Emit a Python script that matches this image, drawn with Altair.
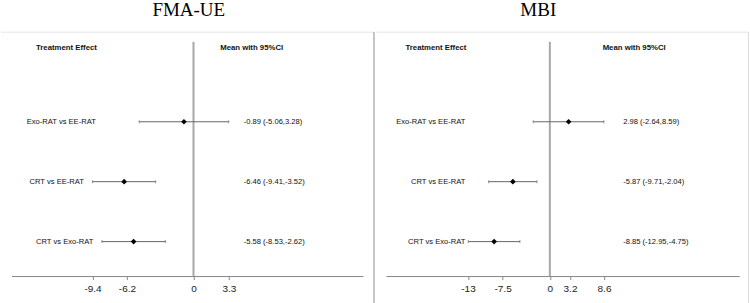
import altair as alt
import pandas as pd

# ---- data ----
comparisons = ["Exo-RAT vs EE-RAT", "CRT vs EE-RAT", "CRT vs Exo-RAT"]
rows = [1, 2, 3]

fma_mean = [-0.89, -6.46, -5.58]
fma_lo = [-5.06, -9.41, -8.53]
fma_hi = [3.28, -3.52, -2.62]
fma_ticks = [-9.4, -6.2, 0, 3.3]

mbi_mean = [2.98, -5.87, -8.85]
mbi_lo = [-2.64, -9.71, -12.95]
mbi_hi = [8.59, -2.04, -4.75]
mbi_ticks = [-13, -7.5, 0, 3.2, 8.6]

FONT = "Liberation Sans"
VIEW_H = 244.7
VIEW_TOP = 31


def one(v):
    return pd.DataFrame({"v": [v]})


def panel(title, title_x, mean, lo, hi, ticks, xdomain, width,
          name_x, name_gap, head_x, mean_head_x, ci_x, axis_x0, axis_x1, right_border_color):
    df = pd.DataFrame({
        "comparison": comparisons,
        "row": rows,
        "mean": mean,
        "lo": lo,
        "hi": hi,
        "label": [f"{m:.2f} ({l:.2f},{h:.2f})" for m, l, h in zip(mean, lo, hi)],
    })
    xs = alt.Scale(domain=xdomain, nice=False, zero=False)
    ys = alt.Scale(domain=[-0.495, 3.583], reverse=True, nice=False, zero=False)
    axis = alt.Axis(values=ticks, domain=False, grid=False, title=None,
                    tickSize=3, tickColor="#888", labelFontSize=10, labelFont=FONT,
                    labelColor="#222", labelPadding=4, labelFlush=False,
                    labelExpr="datum.value")
    base = alt.Chart(df)

    spacer = alt.Chart(one(0)).mark_rule(color="white", strokeWidth=1).encode(
        x=alt.value(0), x2=alt.value(1), y=alt.value(-VIEW_TOP))
    title_mark = alt.Chart(pd.DataFrame({"t": [title]})).mark_text(
        align="center", baseline="middle", font="Liberation Serif", fontSize=19,
        color="black").encode(x=alt.value(title_x), y=alt.value(-22.5), text="t:N")
    top_border = alt.Chart(one(0)).mark_rule(color="#e4e4e4", strokeWidth=1).encode(
        x=alt.value(0), x2=alt.value(width), y=alt.value(0))
    right_border = alt.Chart(one(0)).mark_rule(color=right_border_color, strokeWidth=1).encode(
        x=alt.value(width - 0.5), y=alt.value(0), y2=alt.value(VIEW_H + 40))
    axis_line = alt.Chart(one(0)).mark_rule(color="#888", strokeWidth=1).encode(
        x=alt.value(axis_x0), x2=alt.value(axis_x1), y=alt.value(VIEW_H))
    zero = alt.Chart(one(0)).mark_rule(color="#a8a8a8", strokeWidth=2).encode(
        x=alt.X("v:Q", scale=xs, axis=axis), y=alt.value(9.7), y2=alt.value(VIEW_H))

    ci = base.mark_rule(color="#666", strokeWidth=1).encode(
        x=alt.X("lo:Q", scale=xs), x2="hi:Q",
        y=alt.Y("row:Q", scale=ys, axis=None))
    cap_lo = base.mark_tick(orient="vertical", size=3, thickness=1, color="#666").encode(
        x="lo:Q", y="row:Q")
    cap_hi = base.mark_tick(orient="vertical", size=3, thickness=1, color="#666").encode(
        x="hi:Q", y="row:Q")
    pts = base.mark_point(shape="diamond", filled=True, color="black", size=32, opacity=1).encode(
        x="mean:Q", y="row:Q")
    names = base.transform_calculate(
        name_pos=f"min({name_x}, datum.lo - {name_gap})"
    ).mark_text(align="right", baseline="middle", fontSize=7.6, font=FONT, color="#111").encode(
        x="name_pos:Q", y="row:Q", text="comparison:N")
    cis = base.mark_text(align="left", baseline="middle", fontSize=7.6, font=FONT, color="#111").encode(
        x=alt.value(ci_x), y="row:Q", text="label:N")
    head1 = alt.Chart(pd.DataFrame({"t": ["Treatment Effect"]})).mark_text(
        align="right", baseline="middle", fontSize=7.8, font=FONT, fontWeight="bold", color="#111").encode(
        x=alt.value(head_x), y=alt.value(15.7), text="t:N")
    head2 = alt.Chart(pd.DataFrame({"t": ["Mean with 95%CI"]})).mark_text(
        align="center", baseline="middle", fontSize=7.8, font=FONT, fontWeight="bold", color="#111").encode(
        x=alt.value(mean_head_x), y=alt.value(15.7), text="t:N")

    return alt.layer(
        zero, spacer, title_mark, top_border, right_border, axis_line, ci, cap_lo, cap_hi, pts,
        names, cis, head1, head2
    ).properties(width=width, height=VIEW_H)


left = panel("FMA-UE", 188, fma_mean, fma_lo, fma_hi, fma_ticks, [-17.93, 16.86], 374,
             -9.1, 0.8, 96, 251, 243, 11, 363, "#8a8a8a")
right = panel("MBI", 162, mbi_mean, mbi_lo, mbi_hi, mbi_ticks, [-27.53, 31.63], 373,
              -13.42, 0.2, 90, 258, 247, 10, 363.7, "#dddddd")

chart = alt.hconcat(left, right, spacing=0).configure_view(stroke=None).properties(
    padding={"left": 0, "top": 0, "right": 0, "bottom": 0})

chart.save("out.html", embed_options={"renderer": "svg", "actions": False})
